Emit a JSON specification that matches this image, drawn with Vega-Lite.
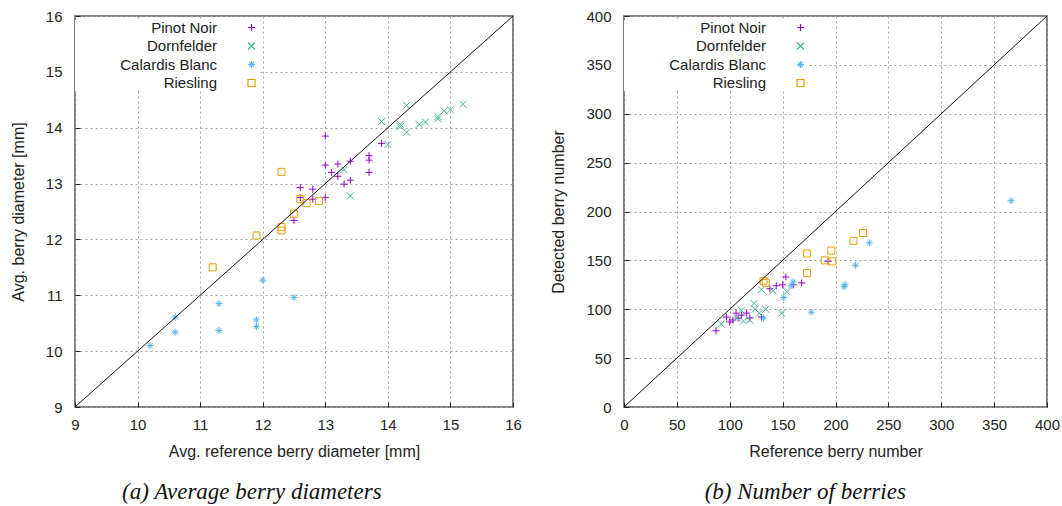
{
  "$schema": "https://vega.github.io/schema/vega-lite/v6.json",
  "padding": {"left": 9, "top": 8, "right": 14, "bottom": 2},
  "background": "white",
  "spacing": 27,
  "config": {
    "font": "Liberation Sans",
    "view": {"stroke": "#555555", "strokeWidth": 1.5},
    "axis": {
      "labelFontSize": 15,
      "titleFontSize": 16,
      "labelColor": "#222222",
      "titleColor": "#222222",
      "titleFontWeight": "normal",
      "grid": true,
      "gridColor": "#a0a0a0",
      "gridDash": [2, 3],
      "gridWidth": 1,
      "domain": false,
      "labelFlush": false,
      "tickColor": "#222222",
      "tickSize": -5
    },
    "axisX": {"labelPadding": 15, "titlePadding": 11},
    "axisY": {"labelPadding": 18, "titlePadding": 19},
    "legend": {
      "orient": "none",
      "legendX": 0,
      "legendY": 4,
      "fillColor": "white",
      "labelFontSize": 15,
      "labelColor": "#222222",
      "labelAlign": "right",
      "labelOffset": -42,
      "symbolOffset": 169,
      "symbolSize": 49,
      "symbolStrokeWidth": 1.2,
      "rowPadding": 2.5,
      "padding": 0,
      "title": null
    },
    "title": {
      "orient": "bottom",
      "font": "Liberation Serif",
      "fontStyle": "italic",
      "fontWeight": "normal",
      "fontSize": 23,
      "color": "#111111",
      "frame": "bounds",
      "anchor": "middle",
      "offset": 22
    }
  },
  "datasets": {
    "diam": [
      {"ref": 13.0, "det": 13.85, "variety": "Pinot Noir"},
      {"ref": 13.0, "det": 13.33, "variety": "Pinot Noir"},
      {"ref": 13.2, "det": 13.35, "variety": "Pinot Noir"},
      {"ref": 13.4, "det": 13.40, "variety": "Pinot Noir"},
      {"ref": 13.7, "det": 13.50, "variety": "Pinot Noir"},
      {"ref": 13.7, "det": 13.42, "variety": "Pinot Noir"},
      {"ref": 13.7, "det": 13.20, "variety": "Pinot Noir"},
      {"ref": 13.1, "det": 13.20, "variety": "Pinot Noir"},
      {"ref": 13.2, "det": 13.13, "variety": "Pinot Noir"},
      {"ref": 13.4, "det": 13.06, "variety": "Pinot Noir"},
      {"ref": 13.3, "det": 12.99, "variety": "Pinot Noir"},
      {"ref": 13.0, "det": 12.75, "variety": "Pinot Noir"},
      {"ref": 12.6, "det": 12.93, "variety": "Pinot Noir"},
      {"ref": 12.8, "det": 12.90, "variety": "Pinot Noir"},
      {"ref": 12.8, "det": 12.72, "variety": "Pinot Noir"},
      {"ref": 12.6, "det": 12.75, "variety": "Pinot Noir"},
      {"ref": 12.5, "det": 12.34, "variety": "Pinot Noir"},
      {"ref": 13.9, "det": 13.72, "variety": "Pinot Noir"},
      {"ref": 14.3, "det": 14.40, "variety": "Dornfelder"},
      {"ref": 13.9, "det": 14.11, "variety": "Dornfelder"},
      {"ref": 14.2, "det": 14.06, "variety": "Dornfelder"},
      {"ref": 14.2, "det": 14.02, "variety": "Dornfelder"},
      {"ref": 14.3, "det": 13.92, "variety": "Dornfelder"},
      {"ref": 14.5, "det": 14.06, "variety": "Dornfelder"},
      {"ref": 14.6, "det": 14.10, "variety": "Dornfelder"},
      {"ref": 14.8, "det": 14.20, "variety": "Dornfelder"},
      {"ref": 14.8, "det": 14.16, "variety": "Dornfelder"},
      {"ref": 14.9, "det": 14.30, "variety": "Dornfelder"},
      {"ref": 15.0, "det": 14.32, "variety": "Dornfelder"},
      {"ref": 15.2, "det": 14.42, "variety": "Dornfelder"},
      {"ref": 14.0, "det": 13.70, "variety": "Dornfelder"},
      {"ref": 13.4, "det": 12.78, "variety": "Dornfelder"},
      {"ref": 13.3, "det": 13.25, "variety": "Dornfelder"},
      {"ref": 10.2, "det": 10.10, "variety": "Calardis Blanc"},
      {"ref": 10.6, "det": 10.61, "variety": "Calardis Blanc"},
      {"ref": 10.6, "det": 10.34, "variety": "Calardis Blanc"},
      {"ref": 11.3, "det": 10.85, "variety": "Calardis Blanc"},
      {"ref": 11.3, "det": 10.37, "variety": "Calardis Blanc"},
      {"ref": 11.9, "det": 10.56, "variety": "Calardis Blanc"},
      {"ref": 11.9, "det": 10.44, "variety": "Calardis Blanc"},
      {"ref": 12.0, "det": 11.27, "variety": "Calardis Blanc"},
      {"ref": 12.5, "det": 10.96, "variety": "Calardis Blanc"},
      {"ref": 11.2, "det": 11.50, "variety": "Riesling"},
      {"ref": 11.9, "det": 12.07, "variety": "Riesling"},
      {"ref": 12.3, "det": 12.22, "variety": "Riesling"},
      {"ref": 12.3, "det": 12.16, "variety": "Riesling"},
      {"ref": 12.3, "det": 13.21, "variety": "Riesling"},
      {"ref": 12.5, "det": 12.46, "variety": "Riesling"},
      {"ref": 12.6, "det": 12.72, "variety": "Riesling"},
      {"ref": 12.7, "det": 12.65, "variety": "Riesling"},
      {"ref": 12.9, "det": 12.69, "variety": "Riesling"}
    ],
    "count": [
      {"ref": 193, "det": 149, "variety": "Pinot Noir"},
      {"ref": 168, "det": 127, "variety": "Pinot Noir"},
      {"ref": 160, "det": 125, "variety": "Pinot Noir"},
      {"ref": 153, "det": 133, "variety": "Pinot Noir"},
      {"ref": 150, "det": 125, "variety": "Pinot Noir"},
      {"ref": 144, "det": 124, "variety": "Pinot Noir"},
      {"ref": 138, "det": 121, "variety": "Pinot Noir"},
      {"ref": 130, "det": 92, "variety": "Pinot Noir"},
      {"ref": 116, "det": 96, "variety": "Pinot Noir"},
      {"ref": 119, "det": 91, "variety": "Pinot Noir"},
      {"ref": 106, "det": 96, "variety": "Pinot Noir"},
      {"ref": 97, "det": 92, "variety": "Pinot Noir"},
      {"ref": 100, "det": 87, "variety": "Pinot Noir"},
      {"ref": 108, "det": 91, "variety": "Pinot Noir"},
      {"ref": 87, "det": 78, "variety": "Pinot Noir"},
      {"ref": 103, "det": 89, "variety": "Pinot Noir"},
      {"ref": 111, "det": 94, "variety": "Pinot Noir"},
      {"ref": 130, "det": 120, "variety": "Dornfelder"},
      {"ref": 141, "det": 119, "variety": "Dornfelder"},
      {"ref": 154, "det": 118, "variety": "Dornfelder"},
      {"ref": 123, "det": 106, "variety": "Dornfelder"},
      {"ref": 124, "det": 100, "variety": "Dornfelder"},
      {"ref": 134, "det": 100, "variety": "Dornfelder"},
      {"ref": 149, "det": 96, "variety": "Dornfelder"},
      {"ref": 111, "det": 99, "variety": "Dornfelder"},
      {"ref": 128, "det": 96, "variety": "Dornfelder"},
      {"ref": 113, "det": 88, "variety": "Dornfelder"},
      {"ref": 119, "det": 89, "variety": "Dornfelder"},
      {"ref": 92, "det": 85, "variety": "Dornfelder"},
      {"ref": 107, "det": 91, "variety": "Dornfelder"},
      {"ref": 366, "det": 211, "variety": "Calardis Blanc"},
      {"ref": 232, "det": 168, "variety": "Calardis Blanc"},
      {"ref": 219, "det": 145, "variety": "Calardis Blanc"},
      {"ref": 209, "det": 125, "variety": "Calardis Blanc"},
      {"ref": 208, "det": 123, "variety": "Calardis Blanc"},
      {"ref": 177, "det": 97, "variety": "Calardis Blanc"},
      {"ref": 160, "det": 128, "variety": "Calardis Blanc"},
      {"ref": 151, "det": 112, "variety": "Calardis Blanc"},
      {"ref": 132, "det": 91, "variety": "Calardis Blanc"},
      {"ref": 158, "det": 124, "variety": "Calardis Blanc"},
      {"ref": 226, "det": 178, "variety": "Riesling"},
      {"ref": 217, "det": 170, "variety": "Riesling"},
      {"ref": 196, "det": 160, "variety": "Riesling"},
      {"ref": 173, "det": 157, "variety": "Riesling"},
      {"ref": 190, "det": 150, "variety": "Riesling"},
      {"ref": 197, "det": 149, "variety": "Riesling"},
      {"ref": 173, "det": 137, "variety": "Riesling"},
      {"ref": 132, "det": 129, "variety": "Riesling"},
      {"ref": 134, "det": 127, "variety": "Riesling"}
    ]
  },
  "hconcat": [
    {
      "width": 438,
      "height": 391,
      "title": {"text": "(a) Average berry diameters", "dx": -14},
      "layer": [
        {
          "data": {"name": "diam"},
          "mark": {"type": "point", "filled": false, "size": 49, "strokeWidth": 1, "opacity": 1},
          "encoding": {
            "x": {"field": "ref", "type": "quantitative", "scale": {"domain": [9, 16], "nice": false, "zero": false},
                  "axis": {"title": "Avg. reference berry diameter [mm]", "tickCount": 7}},
            "y": {"field": "det", "type": "quantitative", "scale": {"domain": [9, 16], "nice": false, "zero": false},
                  "axis": {"title": "Avg. berry diameter [mm]", "tickCount": 7}},
            "color": {"field": "variety", "type": "nominal",
                      "scale": {"domain": ["Pinot Noir", "Dornfelder", "Calardis Blanc", "Riesling"],
                                "range": ["#9400d3", "#3db58f", "#56b4e9", "#e69f00"]}},
            "shape": {"field": "variety", "type": "nominal",
                      "scale": {"domain": ["Pinot Noir", "Dornfelder", "Calardis Blanc", "Riesling"],
                                "range": ["M-1,0L1,0M0,-1L0,1", "M-1,-1L1,1M-1,1L1,-1", "M-1,0L1,0M0,-1L0,1M-0.7,-0.7L0.7,0.7M-0.7,0.7L0.7,-0.7", "square"]}}
          }
        },
        {
          "data": {"values": [{"ref": 9, "det": 9}, {"ref": 16, "det": 16}]},
          "mark": {"type": "line", "color": "#111111", "strokeWidth": 1, "clip": true},
          "encoding": {
            "x": {"field": "ref", "type": "quantitative"},
            "y": {"field": "det", "type": "quantitative"}
          }
        }
      ]
    },
    {
      "width": 423,
      "height": 391,
      "title": {"text": "(b) Number of berries", "dx": 0},
      "layer": [
        {
          "data": {"name": "count"},
          "mark": {"type": "point", "filled": false, "size": 49, "strokeWidth": 1, "opacity": 1},
          "encoding": {
            "x": {"field": "ref", "type": "quantitative", "scale": {"domain": [0, 400], "nice": false},
                  "axis": {"title": "Reference berry number", "tickCount": 8}},
            "y": {"field": "det", "type": "quantitative", "scale": {"domain": [0, 400], "nice": false},
                  "axis": {"title": "Detected berry number", "tickCount": 8}},
            "color": {"field": "variety", "type": "nominal",
                      "scale": {"domain": ["Pinot Noir", "Dornfelder", "Calardis Blanc", "Riesling"],
                                "range": ["#9400d3", "#3db58f", "#56b4e9", "#e69f00"]}},
            "shape": {"field": "variety", "type": "nominal",
                      "scale": {"domain": ["Pinot Noir", "Dornfelder", "Calardis Blanc", "Riesling"],
                                "range": ["M-1,0L1,0M0,-1L0,1", "M-1,-1L1,1M-1,1L1,-1", "M-1,0L1,0M0,-1L0,1M-0.7,-0.7L0.7,0.7M-0.7,0.7L0.7,-0.7", "square"]}}
          }
        },
        {
          "data": {"values": [{"ref": 0, "det": 0}, {"ref": 400, "det": 400}]},
          "mark": {"type": "line", "color": "#111111", "strokeWidth": 1, "clip": true},
          "encoding": {
            "x": {"field": "ref", "type": "quantitative"},
            "y": {"field": "det", "type": "quantitative"}
          }
        }
      ]
    }
  ],
  "resolve": {
    "scale": {"color": "independent", "shape": "independent"},
    "legend": {"color": "independent", "shape": "independent"}
  }
}
